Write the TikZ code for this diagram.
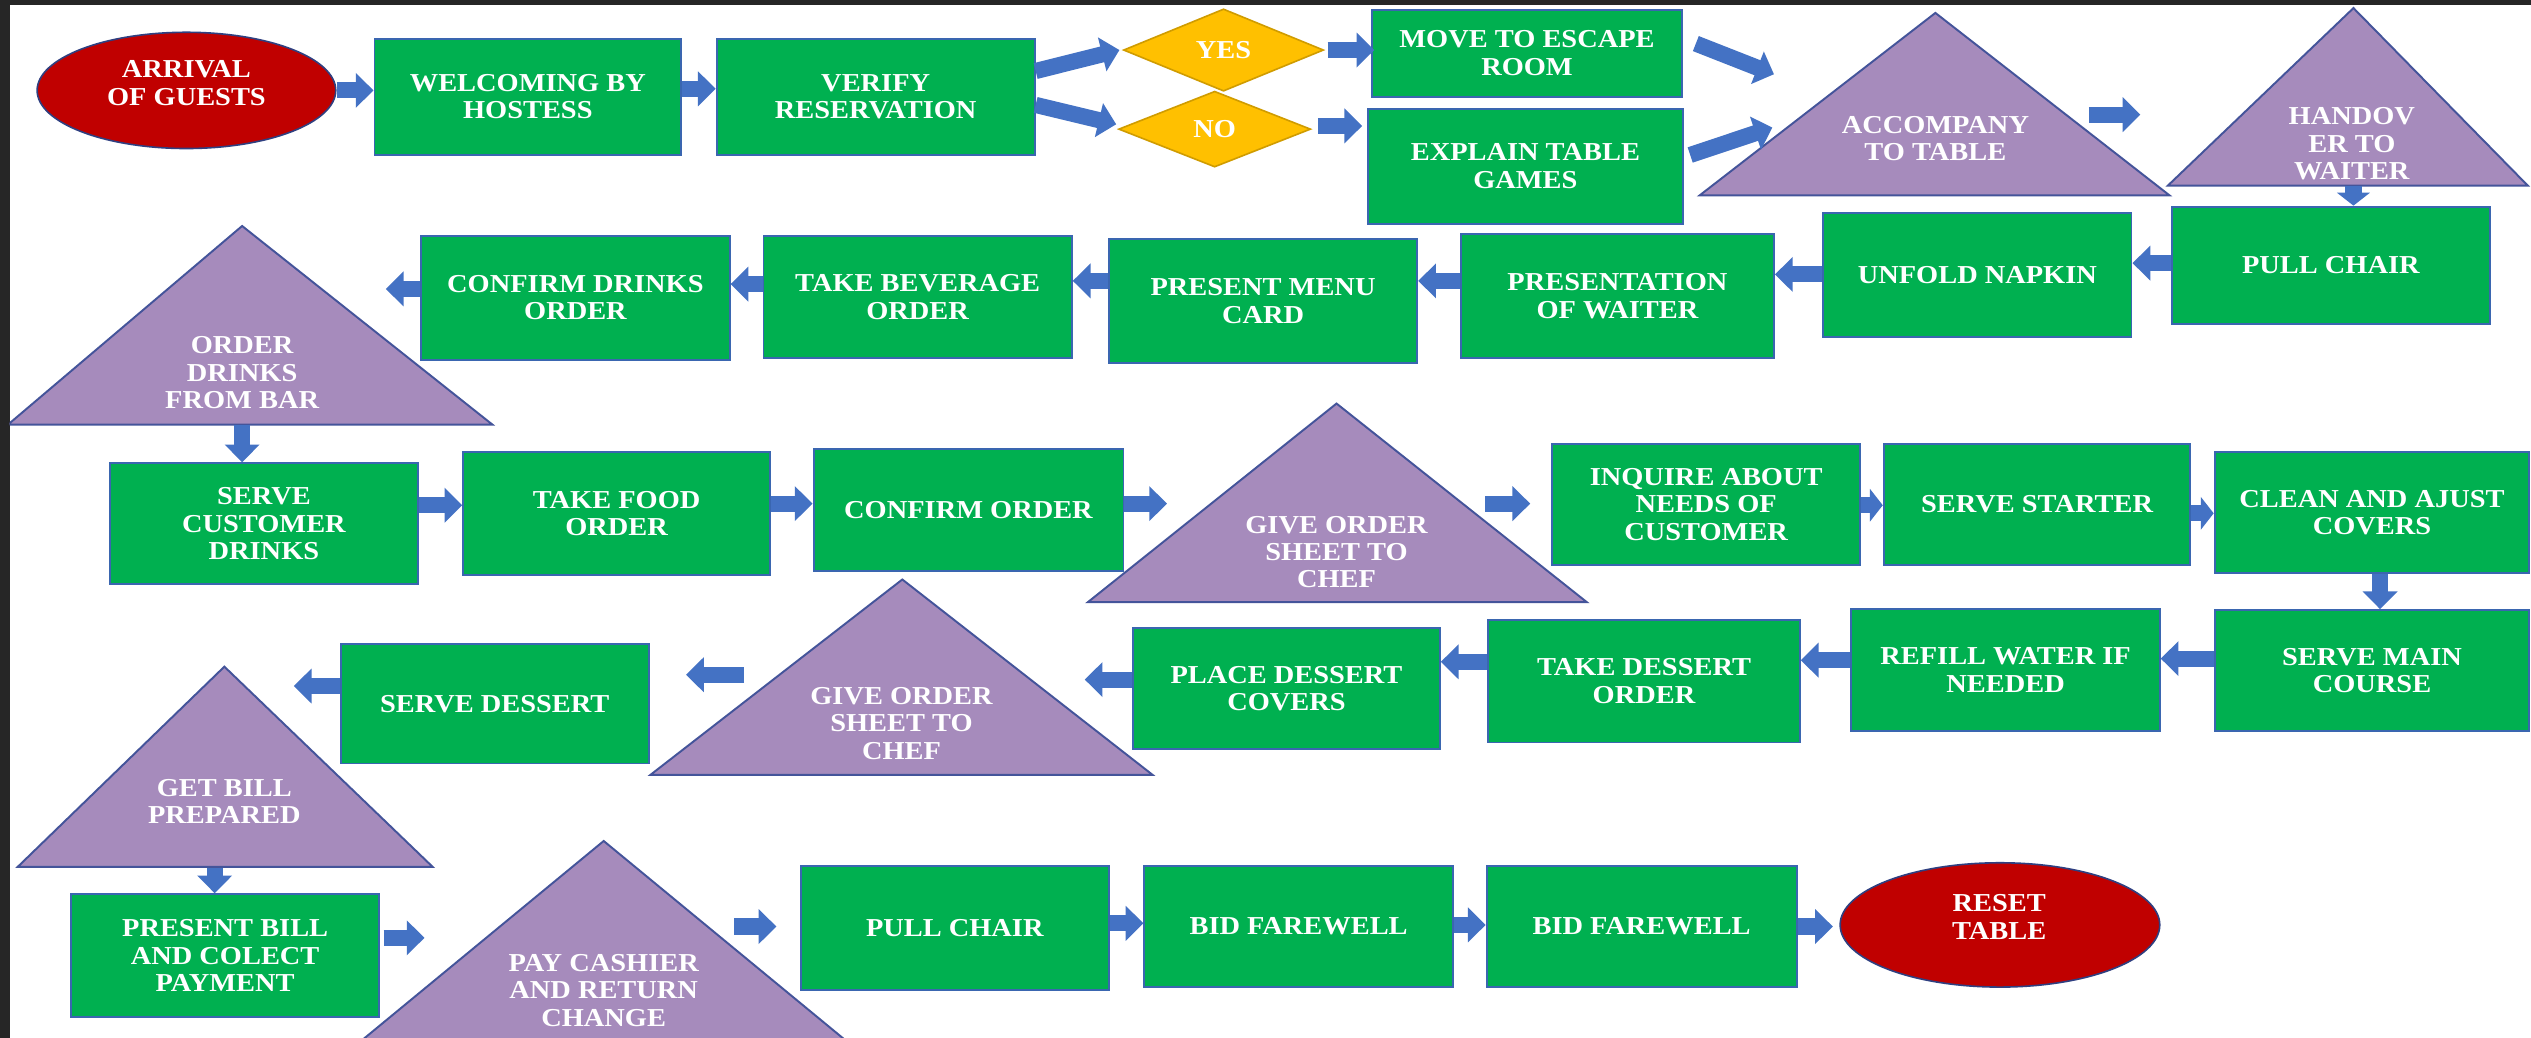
\documentclass[tikz,border=0pt]{standalone}
\usepackage{fontspec}
\newfontfamily\labfont{Liberation Serif}[FakeStretch=1.1]
\usetikzlibrary{arrows.meta,shapes.geometric,calc}
\definecolor{boxgreen}{HTML}{00B050}
\definecolor{boxline}{HTML}{3A66B0}
\definecolor{tripurple}{HTML}{A68BBC}
\definecolor{triline}{HTML}{44549A}
\definecolor{ellred}{HTML}{C00000}
\definecolor{ellline}{HTML}{2F3F80}
\definecolor{dgold}{HTML}{FFC000}
\definecolor{dgoldline}{HTML}{D09C00}
\definecolor{arrblue}{HTML}{4472C4}
\definecolor{framedark}{HTML}{262626}
\begin{document}
\begin{tikzpicture}[x=1pt,y=-1pt,
  txt/.style={text=white,font=\labfont\bfseries\fontsize{16}{17}\selectfont,align=center,inner sep=0pt},
  gbox/.style={txt,rectangle,fill=boxgreen,draw=boxline,line width=1.2pt},
  tri/.style={fill=tripurple,draw=triline,line width=1.2pt,line join=miter},
  redell/.style={ellipse,fill=ellred,draw=ellline,line width=1pt,inner sep=0pt},
  gold/.style={txt,diamond,fill=dgold,draw=dgoldline,line width=1pt},
  barrow/.style={draw=arrblue,line width=10pt,-{Triangle[length=11pt,width=21pt]}},
  sarrow/.style={draw=arrblue,line width=10pt,-{Triangle[length=8pt,width=20pt]}}]
\useasboundingbox (0,0) rectangle (1568,643);
\fill[framedark] (0,0) rectangle (1568,643);
\fill[white] (6,3) rectangle (1568,643);
\clip (6,3) rectangle (1568,643);

% ---------- row 1 ----------
\node[redell,minimum width=185pt,minimum height=72pt] (arr) at (115.5,56) {};
\node[txt] (arrt) at (115.5,51.5) {ARRIVAL\\OF GUESTS};
\node[gbox,minimum width=190pt,minimum height=72pt] (welc) at (327,60) {WELCOMING BY\\HOSTESS};
\node[gbox,minimum width=197pt,minimum height=72pt] (ver) at (542.5,60) {VERIFY\\RESERVATION};
\node[gold,minimum width=124pt,minimum height=51pt] (yes) at (758,31) {YES};
\node[gold,minimum width=119pt,minimum height=47pt] (no) at (752.5,80) {NO};
\node[gbox,minimum width=192pt,minimum height=54pt] (move) at (946,33) {MOVE TO ESCAPE\\ROOM};
\node[gbox,minimum width=195pt,minimum height=71pt] (expl) at (945,103) {EXPLAIN TABLE\\GAMES};
\draw[tri] (1053,121) -- (1344,121) -- (1199,8) -- cycle;
\node[txt] (acc) at (1199,86) {ACCOMPANY\\TO TABLE};
\draw[tri] (1343,115) -- (1566,115) -- (1458,5) -- cycle;
\node[txt] (hand) at (1457,89) {HANDOV\\ER TO\\WAITER};

% ---------- row 2 ----------
\node[gbox,minimum width=197pt,minimum height=73pt] (pull1) at (1444,164.5) {PULL CHAIR};
\node[gbox,minimum width=191pt,minimum height=77pt] (napkin) at (1225,170.5) {UNFOLD NAPKIN};
\node[gbox,minimum width=194pt,minimum height=77pt] (waiter) at (1002,183.5) {PRESENTATION\\OF WAITER};
\node[gbox,minimum width=191pt,minimum height=77pt] (menu) at (782.5,186.5) {PRESENT MENU\\CARD};
\node[gbox,minimum width=191pt,minimum height=76pt] (bev) at (568.5,184) {TAKE BEVERAGE\\ORDER};
\node[gbox,minimum width=191pt,minimum height=77pt] (cdrinks) at (356.5,184.5) {CONFIRM DRINKS\\ORDER};
\draw[tri] (5,263) -- (305,263) -- (150,140) -- cycle;
\node[txt] (drinks) at (150,231) {ORDER\\DRINKS\\FROM BAR};

% ---------- row 3 ----------
\node[gbox,minimum width=191pt,minimum height=75pt] (sdrinks) at (163.5,324.5) {SERVE\\CUSTOMER\\DRINKS};
\node[gbox,minimum width=190pt,minimum height=76pt] (food) at (382,318) {TAKE FOOD\\ORDER};
\node[gbox,minimum width=192pt,minimum height=76pt] (corder) at (600,316) {CONFIRM ORDER};
\draw[tri] (674,373) -- (983,373) -- (828,250) -- cycle;
\node[txt] (chef1) at (828,342) {GIVE ORDER\\SHEET TO\\CHEF};
\node[gbox,minimum width=191pt,minimum height=75pt] (inquire) at (1057,312.5) {INQUIRE ABOUT\\NEEDS OF\\CUSTOMER};
\node[gbox,minimum width=190pt,minimum height=75pt] (starter) at (1262,312.5) {SERVE STARTER};
\node[gbox,minimum width=195pt,minimum height=75pt] (clean) at (1469.5,317.5) {CLEAN AND AJUST\\COVERS};

% ---------- row 4 ----------
\node[gbox,minimum width=195pt,minimum height=75pt] (main) at (1469.5,415.5) {SERVE MAIN\\COURSE};
\node[gbox,minimum width=191pt,minimum height=76pt] (refill) at (1242.5,415) {REFILL WATER IF\\NEEDED};
\node[gbox,minimum width=193pt,minimum height=76pt] (tdessert) at (1018.5,422) {TAKE DESSERT\\ORDER};
\node[gbox,minimum width=190pt,minimum height=75pt] (pdessert) at (797,426.5) {PLACE DESSERT\\COVERS};
\draw[tri] (403,480) -- (714,480) -- (559,359) -- cycle;
\node[txt] (chef2) at (558.5,448) {GIVE ORDER\\SHEET TO\\CHEF};
\node[gbox,minimum width=191pt,minimum height=74pt] (sdessert) at (306.5,436) {SERVE DESSERT};
\draw[tri] (11,537) -- (268,537) -- (139,413) -- cycle;
\node[txt] (getbill) at (139,496.5) {GET BILL\\PREPARED};

% ---------- row 5 ----------
\node[gbox,minimum width=191pt,minimum height=76pt] (bill) at (139.5,592) {PRESENT BILL\\AND COLECT\\PAYMENT};
\draw[tri] (217.5,650) -- (530.5,650) -- (374,521) -- cycle;
\node[txt] (pay) at (374,613.5) {PAY CASHIER\\AND RETURN\\CHANGE};
\node[gbox,minimum width=191pt,minimum height=77pt] (pull2) at (591.5,575) {PULL CHAIR};
\node[gbox,minimum width=191pt,minimum height=75pt] (bid1) at (804.5,574) {BID FAREWELL};
\node[gbox,minimum width=192pt,minimum height=75pt] (bid2) at (1017,574) {BID FAREWELL};
\node[redell,minimum width=198pt,minimum height=77pt] (reset) at (1239,573) {};
\node[txt] (resett) at (1238.5,568) {RESET\\TABLE};

% ---------- free arrow ends ----------
\coordinate (accin1) at (1099,46);
\coordinate (accin2) at (1098,79);
\coordinate (accout) at (1294,71);
\coordinate (handin) at (1326,71);
\coordinate (handb) at (1458,115);
\coordinate (drinksin) at (239,179);
\coordinate (drinksb) at (150,263);
\coordinate (chef1in) at (723,312);
\coordinate (chef1out) at (920,312);
\coordinate (inqin) at (948,312);
\coordinate (chef2in) at (672,421);
\coordinate (chef2out) at (461,418);
\coordinate (sdesin) at (425,418);
\coordinate (billin) at (182,425);
\coordinate (billb) at (133,538);
\coordinate (payin) at (263,581);
\coordinate (payout) at (455,574);
\coordinate (pull2in) at (481,574);

% ---------- arrows ----------
\draw[barrow] (arr.east) -- (arr.east -| welc.west);
\draw[barrow] ([yshift=5pt]welc.east) -- ([yshift=5pt]ver.west);
\draw[barrow] ([yshift=16pt]ver.east) -- ([xshift=-2pt]yes.west);
\draw[barrow] ([yshift=-5pt]ver.east) -- ([xshift=-1pt,yshift=3pt]no.west);
\draw[barrow] ([xshift=2pt]yes.east) -- ([xshift=2pt]yes.east -| move.west);
\draw[barrow] ([xshift=4pt,yshift=2pt]no.east) -- ([xshift=-3pt,yshift=2pt]no.east -| expl.west);
\draw[barrow] ([xshift=8pt,yshift=6pt]move.east) -- (accin1);
\draw[barrow] ([xshift=4pt,yshift=7pt]expl.east) -- (accin2);
\draw[barrow] (accout) -- (handin);
\draw[sarrow] (handb) -- (handb |- pull1.north);
\draw[barrow] ([yshift=1.5pt]pull1.west) -- ([yshift=1.5pt]pull1.west -| napkin.east);
\draw[barrow] ([yshift=.5pt]napkin.west) -- ([yshift=.5pt]napkin.west -| waiter.east);
\draw[barrow] ([yshift=9.5pt]waiter.west) -- ([yshift=9.5pt]waiter.west -| menu.east);
\draw[barrow] ([yshift=12.5pt]menu.west) -- ([yshift=12.5pt]menu.west -| bev.east);
\draw[barrow] ([yshift=8pt]bev.west) -- ([yshift=8pt]bev.west -| cdrinks.east);
\draw[barrow] ([yshift=5.5pt]cdrinks.west) -- (drinksin);
\draw[barrow] (drinksb) -- (drinksb |- sdrinks.north);
\draw[barrow] ([yshift=11.5pt]sdrinks.east) -- ([yshift=11.5pt]sdrinks.east -| food.west);
\draw[barrow] ([yshift=6pt]food.east) -- ([yshift=6pt]food.east -| corder.west);
\draw[barrow] ([yshift=4pt]corder.east) -- (chef1in);
\draw[barrow] (chef1out) -- (inqin);
\draw[sarrow] ([yshift=-.5pt]inquire.east) -- ([yshift=-.5pt]inquire.east -| starter.west);
\draw[sarrow] ([yshift=-5.5pt]starter.east) -- ([yshift=-5.5pt]starter.east -| clean.west);
\draw[barrow] ([xshift=5pt]clean.south) -- ([xshift=5pt]main.north);
\draw[barrow] ([yshift=7.5pt]main.west) -- ([yshift=7.5pt]main.west -| refill.east);
\draw[barrow] ([yshift=6pt]refill.west) -- ([yshift=6pt]refill.west -| tdessert.east);
\draw[barrow] ([yshift=12pt]tdessert.west) -- ([yshift=12pt]tdessert.west -| pdessert.east);
\draw[barrow] ([yshift=5.5pt]pdessert.west) -- (chef2in);
\draw[barrow] (chef2out) -- (sdesin);
\draw[barrow] ([yshift=11pt]sdessert.west) -- (billin);
\draw[barrow] (billb) -- (billb |- bill.north);
\draw[barrow] ([xshift=2pt,yshift=11pt]bill.east) -- (payin);
\draw[barrow] (payout) -- (pull2in);
\draw[barrow] ([yshift=3pt]pull2.east) -- ([yshift=3pt]pull2.east -| bid1.west);
\draw[barrow] ([yshift=1pt]bid1.east) -- ([yshift=1pt]bid1.east -| bid2.west);
\draw[barrow] (bid2.east) -- ([xshift=-4pt]bid2.east -| reset.west);
\end{tikzpicture}
\end{document}
